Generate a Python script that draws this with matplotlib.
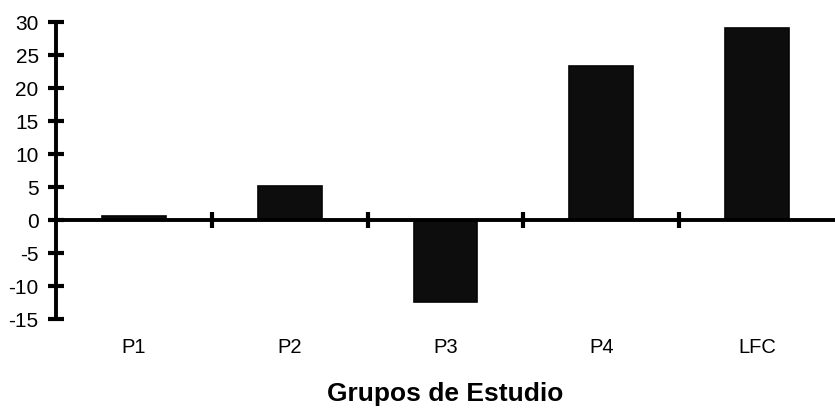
import numpy as np
import matplotlib.pyplot as plt

plt.rcParams['font.family'] = ['Liberation Sans', 'DejaVu Sans']

grupos = ['P1', 'P2', 'P3', 'P4', 'LFC']
valores = [0.6, 5.2, -12.4, 23.3, 29.1]
yticks = [-15, -10, -5, 0, 5, 10, 15, 20, 25, 30]

fig = plt.figure(figsize=(8.35, 4.1), dpi=100)
ax = fig.add_axes([56 / 835, 1 - 320 / 410, 779 / 835, 297 / 410])

x = np.arange(len(grupos))
ax.bar(x, valores, width=0.41, color='#0d0d0d', edgecolor='#050505', linewidth=1.2, zorder=1)
ax.set_axisbelow(False)

ax.set_xlim(-0.5, len(grupos) - 0.5)
ax.set_ylim(-15, 30)
ax.set_yticks(yticks)
ax.set_yticklabels([str(v) for v in yticks], fontsize=15)

# x axis drawn at zero, boundary ticks between groups
ax.spines['bottom'].set_position(('data', 0))
ax.spines['bottom'].set_linewidth(2.8)
ax.spines['left'].set_linewidth(2.8)
ax.spines['top'].set_visible(False)
ax.spines['right'].set_visible(False)
ax.set_xticks(x)
ax.set_xticklabels(grupos, fontsize=14.5)
ax.set_xticks(x[:-1] + 0.5, minor=True)
ax.tick_params(axis='x', which='major', length=0, pad=84)
ax.tick_params(axis='x', which='minor', direction='inout', length=12, width=3)
ax.tick_params(axis='y', direction='inout', length=12, width=3, pad=6.5)

ax.set_xlabel('Grupos de Estudio', fontsize=19, fontweight='bold')
ax.xaxis.set_label_coords(0.5, -0.21)

fig.savefig('out.png', dpi=100)
